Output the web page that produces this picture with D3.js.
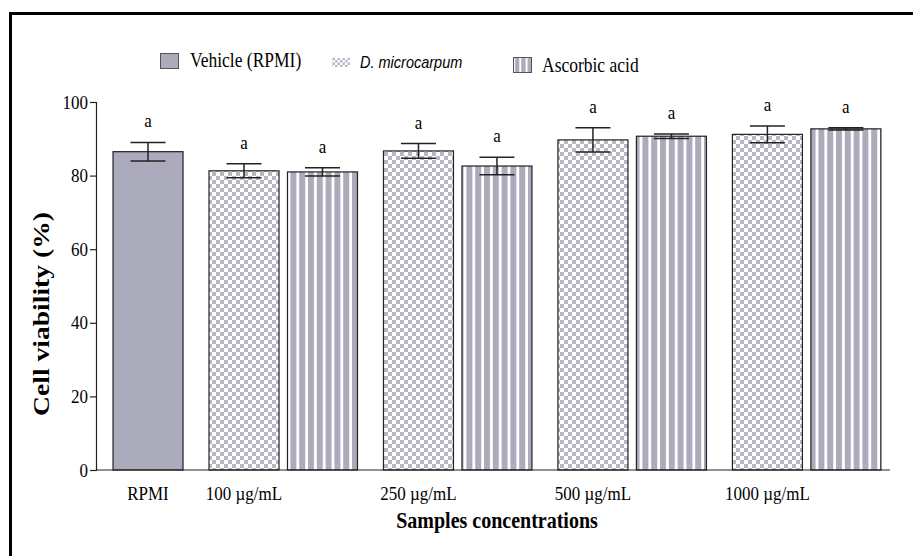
<!DOCTYPE html>
<html><head><meta charset="utf-8">
<script src="https://cdn.jsdelivr.net/npm/d3@7"></script>
<style>body{margin:0;background:#fff}svg{display:block}</style>
</head><body>
<script>
// ---- data ----
const groups = ["RPMI", "100 µg/mL", "250 µg/mL", "500 µg/mL", "1000 µg/mL"];
const seriesNames = ["Vehicle (RPMI)", "D. microcarpum", "Ascorbic acid"];
const vehicleValues = [86.5];
const vehicleErrors = [2.5];
const microValues = [81.3, 86.7, 89.7, 91.2];
const microErrors = [1.9, 2.0, 3.3, 2.3];
const ascorbicValues = [81.0, 82.6, 90.7, 92.7];
const ascorbicErrors = [1.1, 2.4, 0.6, 0.3];
const sigLetters = ["a", "a", "a", "a", "a", "a", "a", "a", "a"];
const yTicks = [0, 20, 40, 60, 80, 100];

// ---- build bar list ----
const bars = [];
bars.push({group: groups[0], series: 0, value: vehicleValues[0], err: vehicleErrors[0]});
for (let i = 0; i < microValues.length; i++) {
  bars.push({group: groups[i + 1], series: 1, value: microValues[i], err: microErrors[i]});
  bars.push({group: groups[i + 1], series: 2, value: ascorbicValues[i], err: ascorbicErrors[i]});
}
bars.forEach((b, i) => b.letter = sigLetters[i]);
// position in bar-width units
const innerGap = 0.121, groupGap = 0.371;
let u = 0;
bars.forEach((b, i) => {
  if (i > 0) u += 1 + (b.group === bars[i - 1].group ? innerGap : groupGap);
  b.pos = u;
});
const endU = u + 1;

const W = 913, H = 556;
const svg = d3.select("body").append("svg").attr("width", W).attr("height", H);

// frame
svg.append("rect").attr("x", 10.5).attr("y", 13.5).attr("width", 1000).attr("height", 1000)
  .attr("fill", "none").attr("stroke", "#000").attr("stroke-width", 3);

const defs = svg.append("defs");
const grey = "#ababbb";
const checkGrey = "#b8b8c4";
const checker = defs.append("pattern").attr("id", "checker").attr("patternUnits", "userSpaceOnUse")
  .attr("width", 8).attr("height", 8);
checker.append("rect").attr("width", 8).attr("height", 8).attr("fill", "#fff");
checker.append("rect").attr("width", 4).attr("height", 4).attr("fill", checkGrey);
checker.append("rect").attr("x", 4).attr("y", 4).attr("width", 4).attr("height", 4).attr("fill", checkGrey);
const checkerS = defs.append("pattern").attr("id", "checkerS").attr("patternUnits", "userSpaceOnUse")
  .attr("width", 5).attr("height", 5);
checkerS.append("rect").attr("width", 5).attr("height", 5).attr("fill", "#fff");
checkerS.append("rect").attr("width", 2.5).attr("height", 2.5).attr("fill", checkGrey);
checkerS.append("rect").attr("x", 2.5).attr("y", 2.5).attr("width", 2.5).attr("height", 2.5).attr("fill", checkGrey);
const stripes = defs.append("pattern").attr("id", "stripes").attr("patternUnits", "userSpaceOnUse")
  .attr("width", 8.8).attr("height", 10);
stripes.append("rect").attr("width", 8.8).attr("height", 10).attr("fill", "#fff");
stripes.append("rect").attr("x", 0).attr("width", 6).attr("height", 10).attr("fill", grey);
const stripesL = defs.append("pattern").attr("id", "stripesL").attr("patternUnits", "userSpaceOnUse")
  .attr("width", 6.3).attr("height", 10).attr("x", 513);
stripesL.append("rect").attr("width", 6.3).attr("height", 10).attr("fill", "#fff");
stripesL.append("rect").attr("x", 2).attr("width", 4.3).attr("height", 10).attr("fill", grey);
const fills = [grey, "url(#checker)", "url(#stripes)"];

// scales
const x = d3.scaleLinear().domain([-0.243, endU + 0.13]).range([96, 890]);
const barW = x(1) - x(0);
const y = d3.scaleLinear().domain([0, 100]).range([470, 102]);

const serif = "'Liberation Serif','Times New Roman',serif";
const stretch = 1.15;

// y axis
const yAxis = svg.append("g").attr("transform", "translate(96,0)")
  .call(d3.axisLeft(y).tickValues(yTicks).tickSize(6).tickPadding(2).tickFormat(d3.format("d")));
yAxis.selectAll("text").attr("font-family", serif).attr("font-size", 17).attr("fill", "#000")
  .attr("dy", null).attr("y", 0)
  .attr("transform", function () { return `translate(0,6) scale(1,${stretch})`; });
yAxis.selectAll("line,path").attr("stroke", "#222").attr("stroke-width", 1.2);

// bars
svg.append("g").selectAll("rect").data(bars).join("rect")
  .attr("x", d => x(d.pos)).attr("y", d => y(d.value))
  .attr("width", barW).attr("height", d => y(0) - y(d.value))
  .attr("fill", d => fills[d.series]).attr("stroke", "#222").attr("stroke-width", 1.2);

// error bars
const eb = svg.append("g").attr("stroke", "#222").attr("stroke-width", 1.5);
bars.forEach(d => {
  const cx = x(d.pos + 0.5), hw = barW * 0.25;
  eb.append("line").attr("x1", cx).attr("x2", cx).attr("y1", y(d.value + d.err)).attr("y2", y(d.value - d.err));
  eb.append("line").attr("x1", cx - hw).attr("x2", cx + hw).attr("y1", y(d.value + d.err)).attr("y2", y(d.value + d.err));
  eb.append("line").attr("x1", cx - hw).attr("x2", cx + hw).attr("y1", y(d.value - d.err)).attr("y2", y(d.value - d.err));
});

// significance letters
svg.append("g").selectAll("text").data(bars).join("text")
  .attr("transform", d => `translate(${x(d.pos + 0.5)},${y(d.value + d.err) - 15}) scale(1,${stretch})`)
  .attr("text-anchor", "middle").attr("font-family", serif).attr("font-size", 17)
  .text(d => d.letter);

// x axis
const xAxisG = svg.append("g").attr("transform", "translate(0,470)");
xAxisG.append("line").attr("x1", 96).attr("x2", x(endU + 0.13)).attr("stroke", "#222").attr("stroke-width", 1.2);
const labelBars = groups.map(g => bars.find(b => b.group === g));
xAxisG.selectAll("text").data(labelBars).join("text")
  .attr("transform", d => `translate(${x(d.pos + 0.5)},30) scale(1,${stretch})`)
  .attr("text-anchor", "middle").attr("font-family", serif).attr("font-size", 17)
  .text(d => d.group);

// axis titles
svg.append("text").attr("transform", `translate(497,528) scale(1,${stretch})`).attr("text-anchor", "middle")
  .attr("font-family", serif).attr("font-size", 20).attr("font-weight", "bold")
  .text("Samples concentrations");
svg.append("text").attr("transform", `translate(49,314) scale(1,1.2) rotate(-90)`).attr("text-anchor", "middle")
  .attr("font-family", serif).attr("font-size", 23).attr("font-weight", "bold")
  .text("Cell viability (%)");

// legend
const lg = svg.append("g");
lg.append("rect").attr("x", 160.5).attr("y", 53.5).attr("width", 18).attr("height", 15)
  .attr("fill", grey).attr("stroke", "#555");
lg.append("text").attr("transform", `translate(190,67) scale(1,${stretch})`).attr("font-family", serif).attr("font-size", 17.5)
  .text(seriesNames[0]);
lg.append("rect").attr("x", 332).attr("y", 58).attr("width", 18).attr("height", 9)
  .attr("fill", "url(#checkerS)");
lg.append("text").attr("transform", `translate(360,68) scale(1,1.1)`).attr("font-family", "'Liberation Sans',Arial,sans-serif")
  .attr("font-size", 14.5).attr("font-style", "italic").text(seriesNames[1]);
lg.append("rect").attr("x", 513.5).attr("y", 57.5).attr("width", 18).attr("height", 15)
  .attr("fill", "url(#stripesL)").attr("stroke", "#555");
lg.append("text").attr("transform", `translate(542,72) scale(1,${stretch})`).attr("font-family", serif).attr("font-size", 17.5)
  .text(seriesNames[2]);
</script>
</body></html>
